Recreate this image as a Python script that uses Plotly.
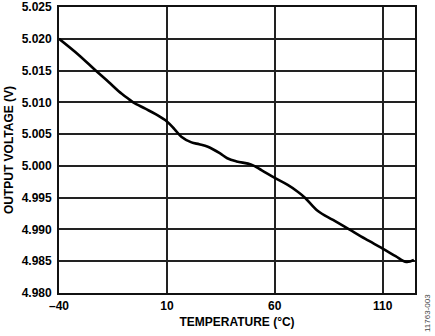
import plotly.graph_objects as go

# Output voltage vs. temperature
temperature_c = [-40, -31, -23, -17, -12.5, -8, -5.6, 0, 5, 10, 13.5, 16.7, 21.4,
                 25, 29, 34.5, 38, 42.3, 49.2, 54, 60, 66, 70.8, 74, 80, 87,
                 94.5, 102, 110, 116, 121, 124.5]
output_v = [5.0200, 5.0175, 5.0150, 5.0132, 5.0118, 5.0106, 5.0100, 5.0090,
            5.0081, 5.0070, 5.0058, 5.0046, 5.0037, 5.0034, 5.0030, 5.0020,
            5.0012, 5.0007, 5.0002, 4.9993, 4.9981, 4.9970, 4.9959, 4.9950,
            4.9929, 4.9915, 4.9900, 4.9885, 4.9870, 4.9858, 4.9849, 4.9852]

x_ticks = [-40, 10, 60, 110]
x_tick_text = ["\u201340", "10", "60", "110"]
y_ticks = [4.980, 4.985, 4.990, 4.995, 5.000, 5.005, 5.010, 5.015, 5.020, 5.025]
y_tick_text = [f"{v:.3f}" for v in y_ticks]

font_family = "Arial"

fig = go.Figure()
fig.add_trace(go.Scatter(
    x=temperature_c, y=output_v, mode="lines",
    line=dict(color="black", width=2.6, shape="spline", smoothing=1.0),
    hoverinfo="skip", showlegend=False,
))

axis_common = dict(
    showgrid=True, gridcolor="#222222", gridwidth=1.7,
    zeroline=False, showline=True, linecolor="#111111", linewidth=1.8,
    mirror=True, ticks="outside", tickcolor="rgba(0,0,0,0)",
    tickfont=dict(family=font_family, size=12, color="black"),
)

fig.update_layout(
    template="none",
    width=435, height=336,
    margin=dict(l=59, r=20, t=7, b=43),
    paper_bgcolor="white", plot_bgcolor="white",
    font=dict(family=font_family, color="black"),
    xaxis=dict(
        range=[-40, 125], tickmode="array", tickvals=x_ticks,
        ticktext=[f"<b>{t}</b>" for t in x_tick_text], ticklen=1,
        title=dict(text="<b>TEMPERATURE (°C)</b>", standoff=5,
                   font=dict(family=font_family, size=12, color="black")),
        **axis_common,
    ),
    yaxis=dict(
        range=[4.980, 5.025], tickmode="array", tickvals=y_ticks,
        ticktext=[f"<b>{t}</b>" for t in y_tick_text], ticklen=3,
        title=dict(text="<b>OUTPUT VOLTAGE (V)</b>", standoff=5,
                   font=dict(family=font_family, size=12, color="black")),
        **axis_common,
    ),
    annotations=[dict(
        text="11763-003", xref="paper", yref="paper",
        x=1.0, y=-0.07, xshift=12, xanchor="center", yanchor="middle",
        textangle=-90, showarrow=False,
        font=dict(family=font_family, size=8, color="#444444"),
    )],
)

fig.write_html("out.html")
